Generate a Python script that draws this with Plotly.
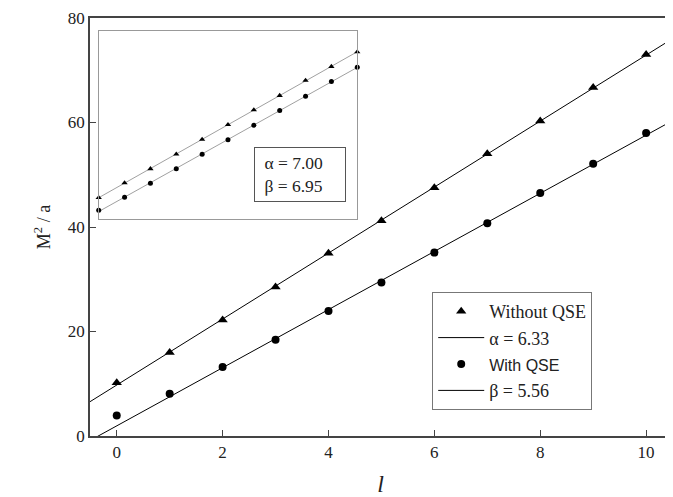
import numpy as np
import plotly.graph_objects as go

# ---- data ----
l_vals = [0, 1, 2, 3, 4, 5, 6, 7, 8, 9, 10]
without_qse = [10.2, 16.0, 22.2, 28.5, 35.0, 41.2, 47.5, 54.0, 60.3, 66.7, 73.0]
with_qse = [3.9, 8.1, 13.2, 18.4, 23.9, 29.4, 35.1, 40.7, 46.5, 52.1, 58.0]

inset_without = [10.3, 17.4, 24.2, 31.2, 38.3, 45.4, 52.5, 59.4, 66.7, 73.4, 80.4]
inset_with = [4.2, 10.5, 17.2, 24.2, 31.2, 38.2, 45.1, 52.2, 59.1, 66.2, 73.1]

legend_names = ["Without QSE", "α = 6.33", "With QSE", "β = 5.56"]
inset_text = ["α = 7.00", "β = 6.95"]

x_ticks = [0, 2, 4, 6, 8, 10]
y_ticks = [0, 20, 40, 60, 80]

SERIF = "Liberation Serif"
SANS = "Liberation Sans"

x_range = [-0.505, 10.47]

def fit_line(x, y):
    b, a = np.polyfit(x, y, 1)
    xs = np.array(x_range)
    return xs, a + b * xs

l_arr = np.array(l_vals)
fx1, fy1 = fit_line(l_arr, without_qse)
fx2, fy2 = fit_line(l_arr[1:], with_qse[1:])

fig = go.Figure()

fig.add_trace(go.Scatter(x=l_vals, y=without_qse, mode="markers", name=legend_names[0],
                         marker=dict(symbol="triangle-up", size=9, color="black")))
fig.add_trace(go.Scatter(x=fx1, y=fy1, mode="lines", name=legend_names[1],
                         line=dict(color="black", width=1)))
fig.add_trace(go.Scatter(x=l_vals, y=with_qse, mode="markers",
                         name=f'<span style="font-family:{SANS};font-size:16px">{legend_names[2]}</span>',
                         marker=dict(symbol="circle", size=8, color="black")))
fig.add_trace(go.Scatter(x=fx2, y=fy2, mode="lines", name=legend_names[3],
                         line=dict(color="black", width=1)))

# ---- inset ----
ix = np.array([0, 10])
b1, a1 = np.polyfit(l_vals, inset_without, 1)
b2, a2 = np.polyfit(l_vals, inset_with, 1)
fig.add_trace(go.Scatter(x=ix, y=a1 + b1 * ix, mode="lines", xaxis="x2", yaxis="y2",
                         showlegend=False, line=dict(color="#888888", width=0.8)))
fig.add_trace(go.Scatter(x=ix, y=a2 + b2 * ix, mode="lines", xaxis="x2", yaxis="y2",
                         showlegend=False, line=dict(color="#888888", width=0.8)))
fig.add_trace(go.Scatter(x=l_vals, y=inset_without, mode="markers", xaxis="x2", yaxis="y2",
                         showlegend=False, cliponaxis=False,
                         marker=dict(symbol="triangle-up", size=5.5, color="black")))
fig.add_trace(go.Scatter(x=l_vals, y=inset_with, mode="markers", xaxis="x2", yaxis="y2",
                         showlegend=False, cliponaxis=False,
                         marker=dict(symbol="circle", size=5, color="black")))

fig.add_annotation(xref="x2", yref="y2", x=7.77, y=21.2,
                   text="<br>".join("&nbsp;" + t for t in inset_text),
                   showarrow=False, align="left", width=80,
                   font=dict(family=SERIF, size=17.5, color="#222222"),
                   bordercolor="#555555", borderwidth=1, borderpad=5, bgcolor="white")

axis_common = dict(showline=True, mirror=True, linecolor="#444444", linewidth=1.5,
                   ticks="inside", ticklen=6, tickcolor="#444444", showgrid=False,
                   zeroline=False, automargin=False,
                   tickfont=dict(family=SERIF, size=17, color="#222222"))

fig.update_layout(
    width=673, height=497,
    margin=dict(l=82, r=10, t=10, b=69),
    paper_bgcolor="white", plot_bgcolor="white",
    xaxis=dict(range=x_range, tickvals=x_ticks,
               title=dict(text="<i>l</i>", font=dict(family=SERIF, size=24, color="#222222"),
                          standoff=14),
               **axis_common),
    yaxis=dict(range=[0, 80], tickvals=y_ticks,
               title=dict(text="M<sup>2</sup> / a", font=dict(family=SERIF, size=18, color="#222222"),
                          standoff=13),
               **axis_common),
    xaxis2=dict(domain=[0.015, 0.46], anchor="y2", range=[0, 10], showline=True, mirror=True,
                linecolor="#999999", linewidth=1, showticklabels=False, ticks="",
                showgrid=False, zeroline=False),
    yaxis2=dict(domain=[0.519, 0.969], anchor="x2", range=[0, 90.5], showline=True, mirror=True,
                linecolor="#999999", linewidth=1, showticklabels=False, ticks="",
                showgrid=False, zeroline=False),
    showlegend=True,
    legend=dict(x=0.589, y=0.3445, xanchor="left", yanchor="top",
                bordercolor="#777777", borderwidth=1, bgcolor="white",
                font=dict(family=SERIF, size=18, color="#222222"),
                itemwidth=46, traceorder="normal"),
)

fig.write_html("out.html")
